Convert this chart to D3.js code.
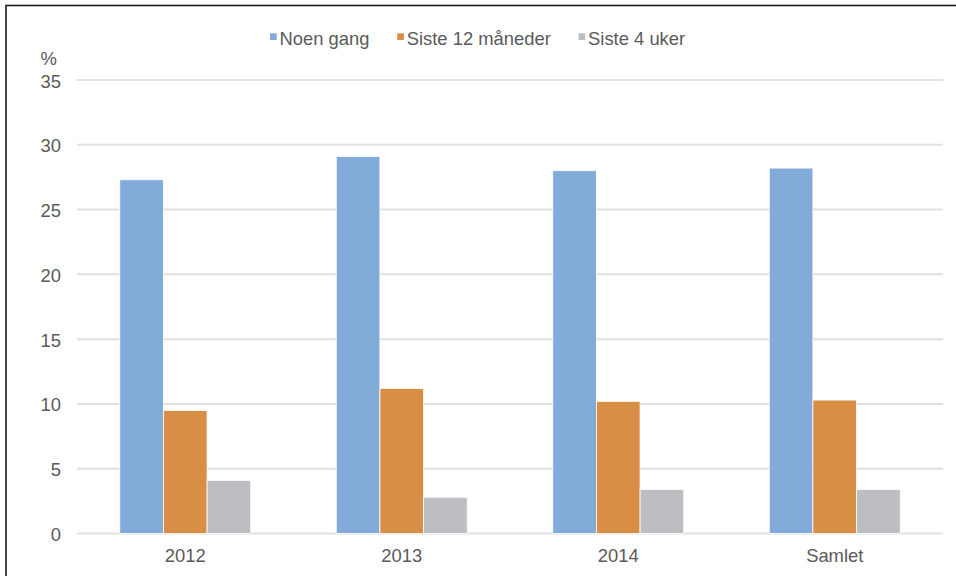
<!DOCTYPE html>
<html lang="no">
<head>
    <meta charset="UTF-8">
    <title>Noen gang / siste 12 måneder / siste 4 uker</title>
    <script src="https://cdn.jsdelivr.net/npm/d3@7"></script>
    <style>
        body{ margin: 0; background: #fff; }
        text{ font-family: "Liberation Sans", Arial, sans-serif; fill: #5a5a5a; font-size: 18.4px; }
    </style>
</head>
<body>
<svg id="chart" width="956" height="576"></svg>

<script>
    // data
    const categories = ["2012", "2013", "2014", "Samlet"];
    const seriesNames = ["Noen gang", "Siste 12 måneder", "Siste 4 uker"];
    const noenGang = [27.3, 29.1, 28.0, 28.2];
    const siste12 = [9.5, 11.2, 10.2, 10.3];
    const siste4 = [4.1, 2.8, 3.4, 3.4];
    const yTicks = [0, 5, 10, 15, 20, 25, 30, 35];
    const colors = ["#83abd9", "#d98e45", "#bdbec1"];

    const values = [noenGang, siste12, siste4];
    const rows = categories.map((c, i) => ({
        cat: c,
        vals: seriesNames.map((s, j) => ({ key: s, idx: j, v: values[j][i] }))
    }));

    const svg = d3.select("#chart");

    // outer frame (only left/top visible in the crop)
    svg.append("rect")
        .attr("x", 6).attr("y", 5.5)
        .attr("width", 1200).attr("height", 1200)
        .attr("fill", "none")
        .attr("stroke", "#1a1a1a")
        .attr("stroke-width", 1.6)

    const plotLeft = 77, plotRight = 943, plotTop = 80, plotBottom = 533.5;

    const y = d3.scaleLinear().domain([0, 35]).range([plotBottom, plotTop]);
    const x0 = d3.scaleBand().domain(categories).range([plotLeft, plotRight])
        .paddingInner(0.395).paddingOuter(0.1975);
    const x1 = d3.scaleBand().domain(seriesNames).range([0, x0.bandwidth()]);

    // grid
    svg.append("g").selectAll("line")
        .data(yTicks)
        .join("line")
        .attr("x1", plotLeft).attr("x2", plotRight)
        .attr("y1", d => y(d)).attr("y2", d => y(d))
        .attr("stroke", "#e1e1e1")
        .attr("stroke-width", 2)

    // y labels
    svg.append("g").selectAll("text")
        .data(yTicks)
        .join("text")
        .attr("x", 61)
        .attr("y", d => y(d) + 7.5)
        .attr("text-anchor", "end")
        .text(d => d)

    svg.append("text")
        .attr("x", 40.5).attr("y", 64.5)
        .text("%")

    // bars
    const groups = svg.append("g").selectAll("g")
        .data(rows)
        .join("g")
        .attr("transform", d => "translate(" + x0(d.cat) + ",0)")

    groups.selectAll("rect")
        .data(d => d.vals)
        .join("rect")
        .attr("x", d => x1(d.key))
        .attr("width", x1.bandwidth())
        .attr("y", d => y(d.v))
        .attr("height", d => y(0) - y(d.v))
        .attr("fill", d => colors[d.idx])
        .attr("stroke", "#fff")
        .attr("stroke-width", 0.8)

    // x labels
    svg.append("g").selectAll("text")
        .data(categories)
        .join("text")
        .attr("x", d => x0(d) + x0.bandwidth() / 2)
        .attr("y", plotBottom + 28.5)
        .attr("text-anchor", "middle")
        .text(d => d)

    // legend
    let lx = 270;
    seriesNames.forEach((s, i) => {
        svg.append("rect")
            .attr("x", lx).attr("y", 33.3)
            .attr("width", 6.7).attr("height", 6.7)
            .attr("fill", colors[i])
        let t = svg.append("text")
            .attr("x", lx + 9.5).attr("y", 44.5)
            .text(s)
        lx = lx + 9.5 + t.node().getComputedTextLength() + 27.7
    })
</script>
</body>
</html>
